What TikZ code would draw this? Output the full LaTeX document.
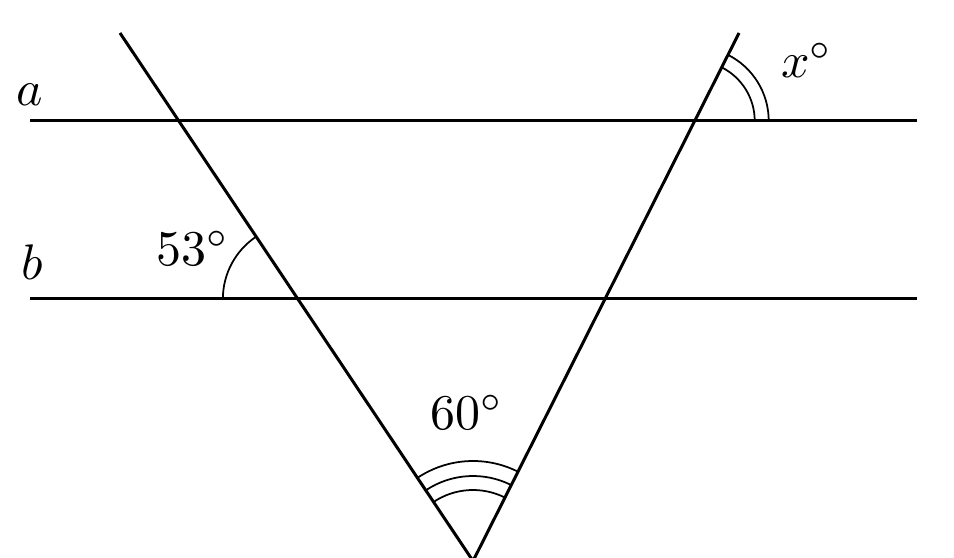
\documentclass[tikz,border=0pt]{standalone}
\begin{document}
\begin{tikzpicture}[x=0.2pt, y=0.2pt, line width=0.6pt,
        ang/.style = {line width=0.35pt},
        lbl/.style = {draw=none, inner sep=0pt}]
    \useasboundingbox (0,0) rectangle (954,557);
    \coordinate (a1) at (30,436);
    \coordinate (a2) at (917,436);
    \coordinate (b1) at (30,258);
    \coordinate (b2) at (917,258);
    \coordinate (L) at (120,524);
    \coordinate (R) at (739,524);
    \coordinate (V) at (473,-4);

    \draw (a1) -- (a2);
    \draw (b1) -- (b2);
    \draw (L) -- (V) -- (R);

    \coordinate (P) at (intersection of L--V and b1--b2);
    \coordinate (Q) at (intersection of R--V and a1--a2);

    \draw[ang] (P) ++(180:15pt) arc[start angle=180, end angle=123.76, radius=15pt];
    \foreach \r in {12pt,14.8pt}
        \draw[ang] (Q) ++(0:\r) arc[start angle=0, end angle=63.26, radius=\r];
    \foreach \r in {14.2pt,17pt,20pt}
        \draw[ang] (V) ++(63.26:\r) arc[start angle=63.26, end angle=123.76, radius=\r];

    \node[lbl] (la) at (30,462) {\(a\)};
    \node[lbl] (lb) at (32,295) {\(b\)};
    \node[lbl] (l53) at (193,309) {\(53^\circ\)};
    \node[lbl] (lx) at (807,497) {\(x^\circ\)};
    \node[lbl] (l60) at (467,145) {\(60^\circ\)};
\end{tikzpicture}
\end{document}
